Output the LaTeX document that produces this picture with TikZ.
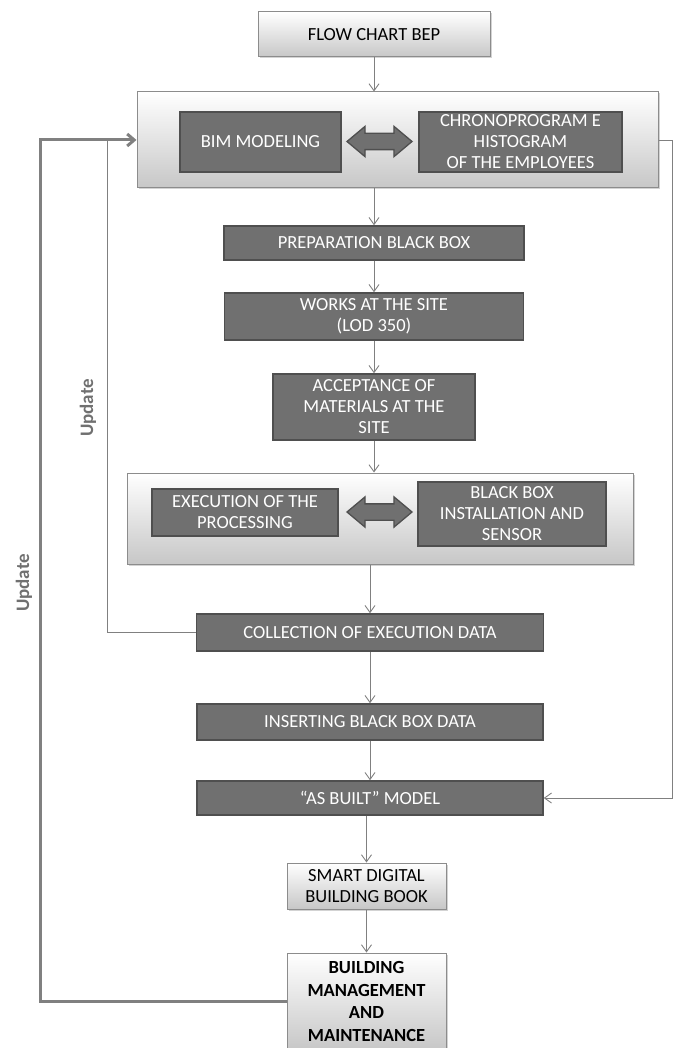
\documentclass[tikz,border=0pt]{standalone}
\usepackage{fontspec}
\setmainfont{Carlito}
\usetikzlibrary{arrows.meta,shapes.arrows,shadows}
\definecolor{boxgray}{HTML}{707070}
\definecolor{boxline}{HTML}{4F4F4F}
\definecolor{panelline}{HTML}{8C8C8C}
\definecolor{linkgray}{HTML}{808080}
\tikzset{
  darkbox/.style={draw=boxline, line width=1.5pt, fill=boxgray, text=white, align=center, inner sep=0pt, font=\fontsize{18.5}{21}\selectfont},
  lightbox/.style={draw=panelline, line width=1pt, top color=white, bottom color=black!22, align=center, inner sep=0pt,
    drop shadow={shadow xshift=1.5pt, shadow yshift=-1.5pt, opacity=0.35}, font=\fontsize{18.5}{21}\selectfont},
  dblarrow/.style={double arrow, draw=boxline, line width=1.3pt, fill=boxgray, minimum height=65pt,
    inner sep=0pt, inner ysep=7.5pt, double arrow head extend=7pt, double arrow tip angle=80},
  flow/.style={draw=linkgray, line width=0.9pt, -{Straight Barb[length=7pt,width=10pt]}},
  feedback/.style={draw=linkgray, line width=3pt, -{Straight Barb[length=7pt,width=12pt]}},
  update/.style={text=boxgray, font=\fontsize{19}{22}\selectfont\bfseries, rotate=90}
}
\begin{document}
\begin{tikzpicture}[x=1pt,y=-1pt]
\useasboundingbox (0,0) rectangle (676,1048);
% main column
\node[lightbox, minimum width=232pt, minimum height=45pt] (bep) at (374,34.5) {FLOW CHART BEP};
\node[lightbox, minimum width=521pt, minimum height=96pt] (top) at (397.5,140) {};
\node[darkbox, minimum width=161pt, minimum height=60pt] (bim) at (260.5,142) {BIM MODELING};
\node[darkbox, minimum width=203pt, minimum height=60pt] (chrono) at (520.5,142) {CHRONOPROGRAM E\\HISTOGRAM\\OF THE EMPLOYEES};
\node[dblarrow] (link1) at (379.5,141.5) {};
\node[darkbox, minimum width=300pt, minimum height=34pt] (prep) at (374,243) {PREPARATION BLACK BOX};
\node[darkbox, minimum width=299pt, minimum height=47pt] (works) at (374,316.5) {WORKS AT THE SITE\\(LOD 350)};
\node[darkbox, minimum width=202pt, minimum height=66pt] (accept) at (374,407) {ACCEPTANCE OF\\MATERIALS AT THE\\SITE};
\node[lightbox, minimum width=506pt, minimum height=91pt] (exe) at (380,518.5) {};
\node[darkbox, minimum width=186pt, minimum height=47pt] (process) at (245,512.5) {EXECUTION OF THE\\PROCESSING};
\node[darkbox, minimum width=188pt, minimum height=64pt] (sensor) at (512,514) {BLACK BOX\\INSTALLATION AND\\SENSOR};
\node[dblarrow] (link2) at (379.5,512) {};
\node[darkbox, minimum width=347pt, minimum height=37pt] (collect) at (370,632.5) {COLLECTION OF EXECUTION DATA};
\node[darkbox, minimum width=346pt, minimum height=36pt] (insert) at (370,722) {INSERTING BLACK BOX DATA};
\node[darkbox, minimum width=346pt, minimum height=34pt] (asbuilt) at (370,798) {“AS BUILT” MODEL};
\node[lightbox, minimum width=159pt, minimum height=46pt] (book) at (366.5,886) {SMART DIGITAL\\BUILDING BOOK};
\node[lightbox, minimum width=159pt, minimum height=97pt, font=\fontsize{18.5}{22.5}\selectfont\bfseries] (manage) at (366.5,1001.5) {BUILDING\\MANAGEMENT\\AND\\MAINTENANCE};
% loops back
\coordinate (inner) at (107,140);
\coordinate (outer) at (40,140);
\node[update] (upd1) at (88,408) {Update};
\node[update] (upd2) at (24,583) {Update};
% connectors
\draw[flow] (bep.south) -- (bep.south |- top.north);
\draw[flow] (prep.north |- top.south) -- (prep.north);
\draw[flow] (prep.south) -- (works.north);
\draw[flow] (works.south) -- (accept.north);
\draw[flow] (accept.south) -- (accept.south |- exe.north);
\draw[flow] (collect.north |- exe.south) -- (collect.north);
\draw[flow] (collect.south) -- (insert.north);
\draw[flow] (insert.south) -- (asbuilt.north);
\draw[flow] (book.north |- asbuilt.south) -- (book.north);
\draw[flow] (book.south) -- (manage.north);
\draw[flow] (top.east) -- ++(14,0) |- (asbuilt.east);
\draw[draw=linkgray, line width=0.9pt] (collect.west) -| (inner);
\draw[feedback] (manage.west) -| (outer) -- (top.west);
\end{tikzpicture}
\end{document}
